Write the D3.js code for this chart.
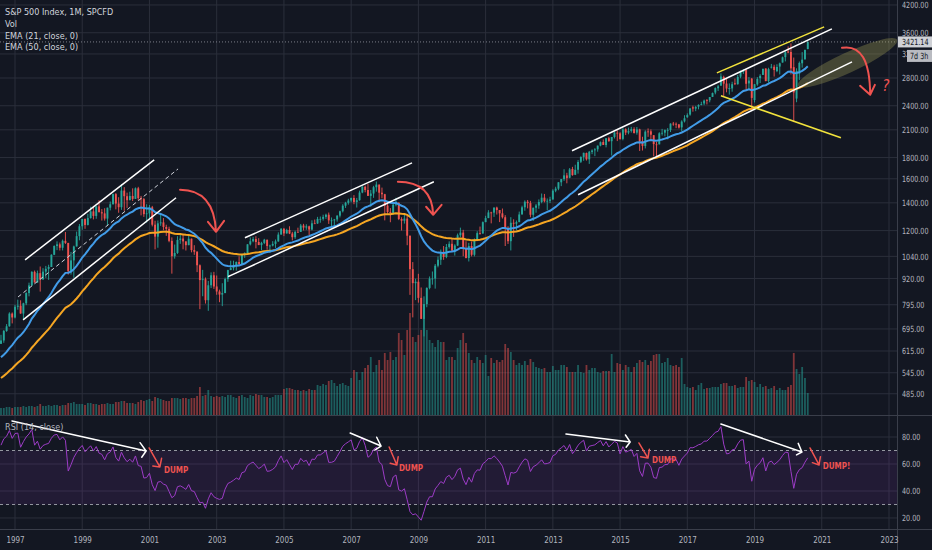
<!DOCTYPE html>
<html>
<head>
<meta charset="utf-8">
<script src="https://cdn.jsdelivr.net/npm/d3@7"></script>
<style>
  html, body { margin: 0; padding: 0; background: #131722; }
  svg { display: block; }
  text { font-family: "Liberation Sans Narrow", "DejaVu Sans Condensed", "Liberation Sans", sans-serif; }
</style>
</head>
<body>
<svg id="chart" width="932" height="550"></svg>
<script>
// S&P 500 monthly candles, Aug 1996 .. Aug 2020 (one row per year)
const firstYear = 1996, firstMonth = 7; // August

// closes before the first visible candle, only used to warm up EMA / RSI
const warmupClose = [
  408.8, 412.7, 403.7, 414.9, 415.4, 408.1, 424.2, 414.0, 417.8, 418.7, 431.4, 435.7,
  438.8, 443.4, 451.7, 440.2, 450.2, 450.5, 448.1, 463.6, 458.9, 467.8, 461.8, 466.5,
  481.6, 467.1, 445.8, 451.0, 456.5, 444.3, 458.3, 475.5, 462.7, 472.4, 454.0, 459.3,
  470.4, 487.4, 500.7, 514.7, 533.4, 544.8, 562.1, 561.9, 584.4, 581.5, 605.4, 615.9,
  636.0, 640.4, 645.5, 654.2, 669.1, 670.6, 639.9
];

const open = [
  639.9, 652.0, 687.3, 705.3, 757.0,
  740.7, 786.2, 790.8, 757.1, 801.3, 848.3, 885.1, 954.3, 899.5, 947.3, 914.6, 955.4,
  970.4, 980.3, 1049.3, 1101.8, 1111.8, 1090.8, 1133.8, 1120.7, 957.3, 1017.0, 1098.7, 1163.6,
  1229.2, 1279.6, 1238.3, 1286.4, 1335.2, 1301.8, 1372.7, 1328.7, 1320.4, 1282.7, 1362.9, 1388.9,
  1469.3, 1394.5, 1366.4, 1498.6, 1452.4, 1420.6, 1454.6, 1430.8, 1517.7, 1436.5, 1429.4, 1315.0,
  1320.3, 1366.0, 1239.9, 1160.3, 1249.5, 1255.8, 1224.4, 1211.2, 1133.6, 1040.9, 1059.8, 1139.5,
  1148.1, 1130.2, 1106.7, 1147.4, 1076.9, 1067.1, 989.8, 911.6, 916.1, 815.3, 885.8, 936.3,
  879.8, 855.7, 841.2, 848.2, 916.9, 963.6, 974.5, 990.3, 1008.0, 996.0, 1050.7, 1058.2,
  1111.9, 1131.1, 1144.9, 1126.2, 1107.3, 1120.7, 1140.8, 1101.7, 1104.2, 1114.6, 1130.2, 1173.8,
  1211.9, 1181.3, 1203.6, 1180.6, 1156.9, 1191.5, 1191.3, 1234.2, 1220.3, 1228.8, 1207.0, 1249.5,
  1248.3, 1280.1, 1280.7, 1294.9, 1310.6, 1270.1, 1270.2, 1276.7, 1303.8, 1335.9, 1377.9, 1400.6,
  1418.3, 1438.2, 1406.8, 1420.9, 1482.4, 1530.6, 1503.4, 1455.2, 1474.0, 1526.8, 1549.4, 1481.1,
  1468.4, 1378.6, 1330.5, 1322.7, 1385.6, 1400.4, 1280.0, 1267.4, 1282.8, 1166.4, 968.8, 896.2,
  903.3, 825.9, 735.1, 797.9, 872.8, 919.1, 919.3, 987.5, 1020.6, 1057.1, 1036.2, 1095.6,
  1115.1, 1073.9, 1104.5, 1169.4, 1186.7, 1089.4, 1030.7, 1101.6, 1049.3, 1141.2, 1183.3, 1180.6,
  1257.6, 1286.1, 1327.2, 1325.8, 1363.6, 1345.2, 1320.6, 1292.3, 1218.9, 1131.4, 1253.3, 1246.9,
  1257.6, 1312.5, 1365.9, 1408.5, 1397.9, 1310.3, 1362.3, 1379.3, 1406.5, 1440.9, 1412.2, 1416.2,
  1426.2, 1498.1, 1514.7, 1569.2, 1597.6, 1630.6, 1609.8, 1689.4, 1636.0, 1682.4, 1758.7, 1806.6,
  1845.9, 1782.7, 1857.7, 1874.0, 1884.4, 1923.9, 1962.3, 1929.8, 2004.1, 1971.4, 2018.2, 2065.8,
  2058.9, 1996.7, 2105.2, 2067.6, 2087.4, 2108.6, 2067.0, 2104.5, 1970.1, 1919.7, 2080.8, 2082.9,
  2038.2, 1936.9, 1937.1, 2056.6, 2067.2, 2093.9, 2099.3, 2173.2, 2171.3, 2164.3, 2128.7, 2200.2,
  2251.6, 2285.6, 2380.1, 2362.3, 2388.5, 2415.6, 2431.4, 2477.1, 2474.4, 2521.2, 2583.2, 2645.1,
  2683.7, 2816.5, 2715.2, 2633.5, 2643.0, 2718.7, 2705.0, 2821.2, 2897.0, 2926.3, 2717.6, 2790.5,
  2477.0, 2702.3, 2798.2, 2848.6, 2952.3, 2751.5, 2971.4, 2980.3, 2909.0, 2983.7, 3050.7, 3143.9,
  3244.7, 3235.7, 2974.3, 2498.1, 2869.1, 3038.8, 3105.9, 3288.3
];

const high = [
  672.7, 690.9, 714.1, 762.3, 761.8,
  794.7, 817.7, 814.9, 804.1, 851.9, 898.7, 957.7, 961.3, 961.0, 983.1, 974.0, 986.3,
  992.7, 1052.0, 1105.7, 1130.5, 1123.0, 1141.7, 1190.6, 1121.0, 1066.1, 1103.8, 1193.2, 1244.9,
  1280.4, 1283.8, 1316.6, 1370.2, 1376.6, 1374.0, 1420.3, 1352.3, 1358.6, 1362.9, 1410.5, 1473.1,
  1478.0, 1444.6, 1552.9, 1527.2, 1481.5, 1488.9, 1517.3, 1525.2, 1530.1, 1454.8, 1438.5, 1389.1,
  1383.4, 1376.4, 1267.4, 1269.3, 1315.9, 1286.6, 1239.8, 1226.3, 1155.4, 1110.6, 1163.4, 1173.0,
  1176.6, 1130.2, 1173.0, 1147.8, 1106.6, 1070.7, 994.5, 965.0, 925.0, 907.4, 951.6, 954.3,
  935.1, 864.6, 895.9, 924.2, 965.4, 1015.3, 1015.4, 1011.0, 1040.3, 1053.8, 1063.7, 1112.6,
  1155.4, 1158.9, 1163.2, 1150.6, 1127.7, 1146.3, 1140.8, 1109.7, 1131.5, 1142.1, 1188.5, 1217.3,
  1217.8, 1212.4, 1229.1, 1191.9, 1199.6, 1219.6, 1245.2, 1245.9, 1243.1, 1233.3, 1270.6, 1275.8,
  1294.9, 1297.6, 1310.9, 1318.2, 1326.7, 1290.7, 1280.4, 1306.7, 1340.3, 1389.5, 1407.9, 1431.8,
  1441.6, 1461.6, 1438.9, 1498.0, 1535.6, 1540.6, 1555.9, 1503.9, 1538.7, 1576.1, 1549.4, 1523.6,
  1471.8, 1404.1, 1359.7, 1404.6, 1440.2, 1404.1, 1292.2, 1313.2, 1303.0, 1167.0, 1007.5, 918.9,
  943.9, 875.0, 833.0, 875.6, 930.2, 956.2, 996.7, 1039.5, 1080.2, 1101.4, 1113.7, 1130.4,
  1150.5, 1112.4, 1180.2, 1219.8, 1205.1, 1131.2, 1121.0, 1129.2, 1148.9, 1196.1, 1227.1, 1262.6,
  1302.7, 1344.1, 1332.3, 1364.6, 1370.6, 1345.2, 1356.5, 1307.4, 1229.3, 1292.7, 1277.6, 1269.4,
  1333.5, 1378.0, 1419.2, 1422.4, 1415.3, 1363.5, 1391.7, 1426.7, 1474.5, 1471.0, 1434.3, 1448.0,
  1509.9, 1530.9, 1570.3, 1597.6, 1687.2, 1654.2, 1698.8, 1709.7, 1729.9, 1775.2, 1813.6, 1849.4,
  1850.8, 1867.9, 1884.0, 1897.3, 1924.0, 1968.2, 1991.4, 2005.0, 2019.3, 2018.2, 2075.8, 2093.6,
  2072.4, 2119.6, 2117.5, 2125.9, 2134.7, 2129.9, 2132.8, 2112.7, 2020.9, 2094.3, 2116.5, 2104.3,
  2038.2, 1963.0, 2072.2, 2111.1, 2103.5, 2120.6, 2177.1, 2193.8, 2187.9, 2169.6, 2214.1, 2277.5,
  2301.0, 2371.5, 2401.0, 2398.2, 2418.7, 2454.0, 2484.0, 2490.9, 2519.4, 2583.0, 2657.7, 2695.0,
  2872.9, 2836.0, 2801.9, 2717.5, 2742.2, 2791.5, 2848.0, 2916.5, 2940.9, 2939.9, 2815.2, 2800.2,
  2709.0, 2813.5, 2860.3, 2949.5, 2954.1, 2964.2, 3028.0, 3013.6, 3022.0, 3050.1, 3154.3, 3247.9,
  3337.8, 3393.5, 3136.7, 2954.9, 3068.7, 3233.1, 3280.0, 3432.0
];

const low = [
  639.6, 643.6, 684.0, 703.8, 716.7,
  737.0, 773.4, 756.1, 733.5, 793.2, 833.1, 882.7, 899.0, 897.8, 855.3, 914.6, 922.7,
  912.8, 980.3, 1047.4, 1076.7, 1074.4, 1074.8, 1114.3, 939.9, 939.9, 923.3, 1098.7, 1136.9,
  1205.5, 1211.9, 1234.7, 1282.6, 1277.0, 1281.4, 1328.7, 1268.7, 1268.4, 1233.7, 1342.4, 1387.4,
  1350.1, 1325.1, 1346.6, 1339.4, 1361.1, 1420.6, 1413.9, 1430.8, 1419.4, 1305.8, 1294.9, 1254.1,
  1274.6, 1228.3, 1081.2, 1091.0, 1232.0, 1203.0, 1165.5, 1124.9, 944.8, 1026.8, 1054.3, 1114.9,
  1081.7, 1074.4, 1106.7, 1063.5, 1048.9, 952.9, 775.7, 833.4, 800.2, 768.6, 872.1, 868.0,
  840.3, 806.3, 788.9, 847.9, 902.8, 963.6, 962.1, 960.8, 990.4, 995.9, 1031.2, 1058.2,
  1105.1, 1124.4, 1087.2, 1107.2, 1076.3, 1113.3, 1078.8, 1060.7, 1099.2, 1090.2, 1127.6, 1173.8,
  1163.8, 1180.1, 1176.9, 1136.2, 1146.2, 1188.3, 1191.3, 1201.1, 1205.4, 1168.2, 1201.1, 1246.6,
  1245.7, 1253.6, 1268.4, 1280.7, 1245.3, 1219.3, 1224.5, 1261.3, 1290.9, 1327.1, 1360.9, 1385.9,
  1403.9, 1389.1, 1364.0, 1416.4, 1476.7, 1484.2, 1454.3, 1370.6, 1439.3, 1489.6, 1406.1, 1435.7,
  1270.1, 1317.5, 1257.0, 1312.0, 1373.1, 1272.0, 1200.4, 1247.5, 1106.4, 839.8, 741.0, 815.7,
  804.3, 734.5, 666.8, 783.9, 866.1, 888.9, 869.3, 978.5, 992.0, 1020.2, 1029.4, 1085.9,
  1071.6, 1044.5, 1101.4, 1157.0, 1040.8, 1028.3, 1010.9, 1039.7, 1039.7, 1131.9, 1173.0, 1180.6,
  1257.6, 1286.1, 1249.1, 1294.7, 1311.8, 1258.1, 1282.9, 1101.5, 1114.2, 1074.8, 1158.7, 1202.4,
  1257.6, 1312.5, 1340.0, 1357.4, 1292.0, 1266.7, 1325.4, 1354.7, 1396.6, 1403.3, 1343.4, 1398.1,
  1426.2, 1485.0, 1501.5, 1536.0, 1581.3, 1560.3, 1604.6, 1627.5, 1633.4, 1646.5, 1746.2, 1768.0,
  1770.5, 1737.9, 1834.4, 1814.4, 1859.8, 1916.0, 1930.7, 1904.8, 1964.0, 1820.7, 2001.0, 1972.6,
  1988.1, 1980.9, 2039.7, 2048.4, 2067.9, 2056.3, 2044.0, 1867.0, 1871.9, 1893.7, 2019.4, 1993.3,
  1812.3, 1810.1, 1937.1, 2033.8, 2025.9, 1991.7, 2074.0, 2147.6, 2119.1, 2114.7, 2083.8, 2187.4,
  2245.1, 2271.7, 2322.3, 2329.0, 2352.7, 2405.7, 2407.7, 2417.4, 2446.6, 2520.4, 2557.5, 2605.5,
  2682.4, 2532.7, 2585.9, 2553.8, 2594.6, 2692.0, 2699.0, 2796.3, 2864.1, 2603.5, 2631.1, 2346.6,
  2444.0, 2681.8, 2722.3, 2848.6, 2750.5, 2728.8, 2952.2, 2822.1, 2891.9, 2855.9, 3050.7, 3070.3,
  3214.6, 2855.8, 2191.9, 2447.5, 2766.6, 2965.7, 3101.2, 3284.5
];

const close = [
  651.99, 687.33, 705.27, 757.02, 740.74,
  786.16, 790.82, 757.12, 801.34, 848.28, 885.14, 954.31, 899.47, 947.28, 914.62, 955.40, 970.43,
  980.28, 1049.34, 1101.75, 1111.75, 1090.82, 1133.84, 1120.67, 957.28, 1017.01, 1098.67, 1163.63, 1229.23,
  1279.64, 1238.33, 1286.37, 1335.18, 1301.84, 1372.71, 1328.72, 1320.41, 1282.71, 1362.93, 1388.91, 1469.25,
  1394.46, 1366.42, 1498.58, 1452.43, 1420.60, 1454.60, 1430.83, 1517.68, 1436.51, 1429.40, 1314.95, 1320.28,
  1366.01, 1239.94, 1160.33, 1249.46, 1255.82, 1224.42, 1211.23, 1133.58, 1040.94, 1059.78, 1139.45, 1148.08,
  1130.20, 1106.73, 1147.39, 1076.92, 1067.14, 989.82, 911.62, 916.07, 815.28, 885.76, 936.31, 879.82,
  855.70, 841.15, 848.18, 916.92, 963.59, 974.50, 990.31, 1008.01, 995.97, 1050.71, 1058.20, 1111.92,
  1131.13, 1144.94, 1126.21, 1107.30, 1120.68, 1140.84, 1101.72, 1104.24, 1114.58, 1130.20, 1173.82, 1211.92,
  1181.27, 1203.60, 1180.59, 1156.85, 1191.50, 1191.33, 1234.18, 1220.33, 1228.81, 1207.01, 1249.48, 1248.29,
  1280.08, 1280.66, 1294.87, 1310.61, 1270.09, 1270.20, 1276.66, 1303.82, 1335.85, 1377.94, 1400.63, 1418.30,
  1438.24, 1406.82, 1420.86, 1482.37, 1530.62, 1503.35, 1455.27, 1473.99, 1526.75, 1549.38, 1481.14, 1468.36,
  1378.55, 1330.63, 1322.70, 1385.59, 1400.38, 1280.00, 1267.38, 1282.83, 1166.36, 968.75, 896.24, 903.25,
  825.88, 735.09, 797.87, 872.81, 919.14, 919.32, 987.48, 1020.62, 1057.08, 1036.19, 1095.63, 1115.10,
  1073.87, 1104.49, 1169.43, 1186.69, 1089.41, 1030.71, 1101.60, 1049.33, 1141.20, 1183.26, 1180.55, 1257.64,
  1286.12, 1327.22, 1325.83, 1363.61, 1345.20, 1320.64, 1292.28, 1218.89, 1131.42, 1253.30, 1246.96, 1257.60,
  1312.41, 1365.68, 1408.47, 1397.91, 1310.33, 1362.16, 1379.32, 1406.58, 1440.67, 1412.16, 1416.18, 1426.19,
  1498.11, 1514.68, 1569.19, 1597.57, 1630.74, 1606.28, 1685.73, 1632.97, 1681.55, 1756.54, 1805.81, 1848.36,
  1782.59, 1859.45, 1872.34, 1883.95, 1923.57, 1960.23, 1930.67, 2003.37, 1972.29, 2018.05, 2067.56, 2058.90,
  1994.99, 2104.50, 2067.89, 2085.51, 2107.39, 2063.11, 2103.84, 1972.18, 1920.03, 2079.36, 2080.41, 2043.94,
  1940.24, 1932.23, 2059.74, 2065.30, 2096.95, 2098.86, 2173.60, 2170.95, 2168.27, 2126.15, 2198.81, 2238.83,
  2278.87, 2363.64, 2362.72, 2384.20, 2411.80, 2423.41, 2470.30, 2471.65, 2519.36, 2575.26, 2647.58, 2673.61,
  2823.81, 2713.83, 2640.87, 2648.05, 2705.27, 2718.37, 2816.29, 2901.52, 2913.98, 2711.74, 2760.17, 2506.85,
  2704.10, 2784.49, 2834.40, 2945.83, 2752.06, 2941.76, 2980.38, 2926.46, 2976.74, 3037.56, 3140.98, 3230.78,
  3225.52, 2954.22, 2584.59, 2912.43, 3044.31, 3100.29, 3271.12, 3421.14
];

// volume, read as bar heights off the picture (arbitrary units)
const volume = [
  7, 7, 8, 8, 7,
  8, 8, 8, 9, 8, 9, 9, 8, 9, 11, 9, 9,
  10, 9, 10, 10, 9, 10, 10, 12, 12, 13, 11, 11,
  11, 10, 12, 12, 11, 11, 10, 11, 11, 12, 11, 11,
  13, 13, 14, 14, 12, 12, 12, 11, 13, 15, 14, 15,
  16, 14, 18, 17, 16, 15, 14, 14, 17, 17, 17, 16,
  17, 17, 16, 17, 17, 19, 28, 19, 20, 25, 19, 18,
  19, 18, 19, 18, 20, 20, 18, 17, 19, 20, 18, 17,
  20, 19, 21, 20, 20, 18, 18, 17, 18, 20, 20, 20,
  26, 27, 27, 26, 25, 25, 24, 25, 24, 26, 25, 25,
  30, 29, 31, 30, 34, 35, 32, 29, 31, 32, 30, 29,
  37, 45, 43, 35, 43, 47, 50, 58, 43, 50, 55, 45,
  62, 55, 63, 55, 58, 82, 75, 60, 85, 102, 78, 73,
  80, 85, 97, 85, 75, 72, 68, 75, 73, 73, 55, 58,
  58, 55, 67, 75, 82, 72, 62, 55, 52, 58, 55, 52,
  60, 39, 57, 52, 55, 53, 55, 71, 67, 63, 55, 50,
  52, 50, 54, 50, 56, 53, 48, 47, 46, 47, 43, 43,
  49, 45, 45, 50, 50, 48, 43, 43, 43, 50, 43, 42,
  50, 45, 47, 47, 43, 42, 44, 44, 44, 61, 43, 52,
  51, 45, 50, 48, 43, 48, 52, 55, 53, 55, 50, 54,
  60, 61, 61, 52, 53, 57, 50, 49, 50, 48, 57, 31,
  28, 27, 28, 25, 30, 32, 26, 27, 27, 28, 28, 28,
  31, 32, 32, 29, 29, 30, 27, 28, 28, 38, 34, 35,
  33, 28, 31, 28, 29, 26, 27, 29, 25, 27, 25, 25,
  28, 30, 62, 46, 41, 48, 37, 22
];

// axis ticks
const priceTicks = [485, 545, 615, 695, 795, 920, 1040, 1200, 1400, 1600, 1800, 2100, 2400, 2800, 3200, 3600, 4200];
const rsiTicks = [20, 40, 60, 80];
const yearTicks = [1997, 1999, 2001, 2003, 2005, 2007, 2009, 2011, 2013, 2015, 2017, 2019, 2021, 2023];

// drawings on the chart, [decimal year, price]
const whiteLines = [
  [[1997.30, 1020], [2001.14, 1777]],
  [[1997.24, 731], [2001.79, 1440]],
  [[2003.84, 1153], [2008.81, 1748]],
  [[2003.34, 929], [2009.46, 1574]],
  [[2013.57, 1869], [2021.30, 3679]],
  [[2013.75, 1464], [2021.90, 3063]]
];
const dashedLines = [
  [[1997.09, 830], [2001.85, 1690]]
];
const yellowLines = [
  [[2017.88, 2881], [2021.07, 3720]],
  [[2018.00, 2537], [2021.57, 2009]]
];
// curved arrows: start, control, tip, wing, wing
const curvedArrows = [
  [[2001.91, 1505], [2002.92, 1505], [2002.98, 1192], [2002.74, 1260], [2003.22, 1267]],
  [[2008.39, 1574], [2009.41, 1574], [2009.44, 1310], [2009.23, 1370], [2009.69, 1385]],
  [[2021.60, 3311], [2022.43, 3404], [2022.44, 2551], [2022.14, 2681], [2022.58, 2696]]
];
const ellipseAxis = [[2020.29, 2681], [2023.24, 3461]];
const questionMark = [2022.80, 2607];

// RSI pane drawings, [decimal year, rsi]: from, tip, wing, wing
const rsiWhiteArrows = [
  [[1996.91, 91.9], [2000.90, 69.6], [2000.72, 75.8], [2000.77, 65.0]],
  [[2006.97, 83.0], [2007.89, 73.3], [2007.76, 79.8], [2007.71, 70.4]],
  [[2013.39, 82.2], [2015.30, 76.3], [2015.16, 81.5], [2015.18, 72.4]],
  [[2018.00, 89.6], [2020.41, 68.9], [2020.30, 75.3], [2020.25, 66.7]]
];
const rsiRedArrows = [
  [[2000.99, 71.9], [2001.31, 57.8], [2001.10, 58.5], [2001.36, 64.2]],
  [[2008.13, 72.6], [2008.36, 59.3], [2008.16, 60.5], [2008.40, 65.4]],
  [[2015.56, 75.6], [2015.83, 64.4], [2015.61, 65.4], [2015.87, 70.9]],
  [[2020.65, 71.9], [2020.92, 59.3], [2020.72, 61.0], [2020.96, 65.4]]
];
const dumpLabels = [
  [2001.43, 53.6, 'DUMP'],
  [2008.42, 55.0, 'DUMP'],
  [2015.95, 61.0, 'DUMP'],
  [2021.03, 56.1, 'DUMP!']
];

const legendLines = ['S&P 500 Index, 1M, SPCFD', 'Vol', 'EMA (21, close, 0)', 'EMA (50, close, 0)'];

// ---------- indicators ----------
function ema(src, n) {
  const a = 2 / (n + 1);
  let v;
  return src.map((c, i) => (v = i === 0 ? c : a * c + (1 - a) * v));
}

function rsi(src, n) {
  const out = src.map(() => null);
  let ag = 0, al = 0;
  for (let i = 1; i < src.length; i++) {
    const ch = src[i] - src[i - 1];
    const g = Math.max(ch, 0), l = Math.max(-ch, 0);
    if (i <= n) {
      ag += g / n; al += l / n;
    } else {
      ag = (ag * (n - 1) + g) / n;
      al = (al * (n - 1) + l) / n;
    }
    if (i >= n) out[i] = al === 0 ? 100 : 100 - 100 / (1 + ag / al);
  }
  return out;
}

const allClose = warmupClose.concat(close);
const skip = warmupClose.length;
const ema21 = ema(allClose, 21).slice(skip);
const ema50 = ema(allClose, 50).slice(skip);
const rsi14 = rsi(allClose, 14).slice(skip);

const idx = d3.range(close.length);
const t = idx.map(i => firstYear + (firstMonth + i) / 12);

// ---------- layout ----------
const plotRight = 897;
const priceBottom = 415, rsiTop = 416, rsiBottom = 529;

const x = d3.scaleLinear().domain([1997, 2023]).range([15, 889]);
const yPrice = d3.scaleLog().domain([431, 4318]).range([priceBottom, 0]);
const yVol = d3.scaleLinear().domain([0, 100]).range([priceBottom, priceBottom - 100]);
const yRsi = d3.scaleLinear().domain([11.85, 95.56]).range([rsiBottom, rsiTop]);

const upColor = '#26a69a', downColor = '#ef5350';
const gridColor = '#2b2f3b', borderColor = '#3a3e4a', textColor = '#b2b5be';

const svg = d3.select('#chart');
svg.append('rect').attr('width', 932).attr('height', 550).attr('fill', '#131722');

const defs = svg.append('defs');
defs.append('clipPath').attr('id', 'clip-price')
  .append('rect').attr('x', 0).attr('y', 0).attr('width', plotRight).attr('height', priceBottom);
defs.append('clipPath').attr('id', 'clip-rsi')
  .append('rect').attr('x', 0).attr('y', rsiTop).attr('width', plotRight).attr('height', rsiBottom - rsiTop);

// grid
const grid = svg.append('g');
grid.selectAll('line.v').data(yearTicks).enter().append('line')
  .attr('x1', d => x(d)).attr('x2', d => x(d))
  .attr('y1', 0).attr('y2', rsiBottom)
  .attr('stroke', gridColor);
grid.selectAll('line.p').data(priceTicks).enter().append('line')
  .attr('x1', 0).attr('x2', plotRight)
  .attr('y1', d => yPrice(d)).attr('y2', d => yPrice(d))
  .attr('stroke', gridColor);
grid.selectAll('line.r').data(rsiTicks).enter().append('line')
  .attr('x1', 0).attr('x2', plotRight)
  .attr('y1', d => yRsi(d)).attr('y2', d => yRsi(d))
  .attr('stroke', gridColor);

// pane borders
svg.append('line').attr('x1', 0).attr('x2', 932).attr('y1', priceBottom + 0.5).attr('y2', priceBottom + 0.5).attr('stroke', borderColor);
svg.append('line').attr('x1', 0).attr('x2', 932).attr('y1', rsiBottom + 0.5).attr('y2', rsiBottom + 0.5).attr('stroke', borderColor);
svg.append('line').attr('x1', plotRight + 0.5).attr('x2', plotRight + 0.5).attr('y1', 0).attr('y2', 550).attr('stroke', borderColor);

// ---------- price pane ----------
const pricePane = svg.append('g').attr('clip-path', 'url(#clip-price)');

// volume
pricePane.selectAll('rect.vol').data(idx).enter().append('rect')
  .attr('x', i => x(t[i]) - 0.9)
  .attr('width', 1.8)
  .attr('y', i => yVol(volume[i]))
  .attr('height', i => yVol(0) - yVol(volume[i]))
  .attr('fill', i => close[i] >= open[i] ? upColor : downColor)
  .attr('fill-opacity', 0.5);

// candles
pricePane.selectAll('line.wick').data(idx).enter().append('line')
  .attr('x1', i => x(t[i])).attr('x2', i => x(t[i]))
  .attr('y1', i => yPrice(high[i])).attr('y2', i => yPrice(low[i]))
  .attr('stroke', i => close[i] >= open[i] ? upColor : downColor)
  .attr('stroke-width', 0.9);
pricePane.selectAll('rect.body').data(idx).enter().append('rect')
  .attr('x', i => x(t[i]) - 0.95)
  .attr('width', 1.9)
  .attr('y', i => yPrice(Math.max(open[i], close[i])))
  .attr('height', i => Math.max(0.8, yPrice(Math.min(open[i], close[i])) - yPrice(Math.max(open[i], close[i]))))
  .attr('fill', i => close[i] >= open[i] ? upColor : downColor);

// EMAs
const emaLine = s => d3.line().x(i => x(t[i])).y(i => yPrice(s[i]));
pricePane.append('path').attr('d', emaLine(ema50)(idx))
  .attr('fill', 'none').attr('stroke', '#f5a623').attr('stroke-width', 2);
pricePane.append('path').attr('d', emaLine(ema21)(idx))
  .attr('fill', 'none').attr('stroke', '#429ce8').attr('stroke-width', 2);

// last price line
const lastY = yPrice(close[close.length - 1]);
pricePane.append('line').attr('x1', 0).attr('x2', plotRight).attr('y1', lastY).attr('y2', lastY)
  .attr('stroke', '#9598a1').attr('stroke-width', 0.8).attr('stroke-dasharray', '1,2');

// drawings
const pp = d => [x(d[0]), yPrice(d[1])];
const ea = pp(ellipseAxis[0]), eb = pp(ellipseAxis[1]);
pricePane.append('ellipse')
  .attr('cx', (ea[0] + eb[0]) / 2).attr('cy', (ea[1] + eb[1]) / 2)
  .attr('rx', Math.hypot(eb[0] - ea[0], eb[1] - ea[1]) / 2).attr('ry', 10)
  .attr('transform', `rotate(${Math.atan2(eb[1] - ea[1], eb[0] - ea[0]) * 180 / Math.PI} ${(ea[0] + eb[0]) / 2} ${(ea[1] + eb[1]) / 2})`)
  .attr('fill', 'rgba(175,170,90,0.32)');

pricePane.selectAll('line.white').data(whiteLines).enter().append('line')
  .attr('x1', d => pp(d[0])[0]).attr('y1', d => pp(d[0])[1])
  .attr('x2', d => pp(d[1])[0]).attr('y2', d => pp(d[1])[1])
  .attr('stroke', '#ffffff').attr('stroke-width', 1.5);
pricePane.selectAll('line.dash').data(dashedLines).enter().append('line')
  .attr('x1', d => pp(d[0])[0]).attr('y1', d => pp(d[0])[1])
  .attr('x2', d => pp(d[1])[0]).attr('y2', d => pp(d[1])[1])
  .attr('stroke', '#d1d4dc').attr('stroke-width', 1).attr('stroke-dasharray', '4,3');
pricePane.selectAll('line.yellow').data(yellowLines).enter().append('line')
  .attr('x1', d => pp(d[0])[0]).attr('y1', d => pp(d[0])[1])
  .attr('x2', d => pp(d[1])[0]).attr('y2', d => pp(d[1])[1])
  .attr('stroke', '#f2e33c').attr('stroke-width', 1.5);

curvedArrows.forEach(a => {
  const [s, c, e, w1, w2] = a.map(pp);
  const p = d3.path();
  p.moveTo(s[0], s[1]);
  p.quadraticCurveTo(c[0], c[1], e[0], e[1]);
  p.moveTo(w1[0], w1[1]);
  p.lineTo(e[0], e[1]);
  p.lineTo(w2[0], w2[1]);
  pricePane.append('path').attr('d', p.toString())
    .attr('fill', 'none').attr('stroke', '#ef5350').attr('stroke-width', 2)
    .attr('stroke-linecap', 'round').attr('stroke-linejoin', 'round');
});

pricePane.append('text')
  .attr('x', pp(questionMark)[0]).attr('y', pp(questionMark)[1])
  .attr('fill', '#ef5350').attr('font-size', 15).attr('font-style', 'italic')
  .text('?');

// ---------- RSI pane ----------
const rsiPane = svg.append('g').attr('clip-path', 'url(#clip-rsi)');
rsiPane.append('rect')
  .attr('x', 0).attr('width', plotRight)
  .attr('y', yRsi(70)).attr('height', yRsi(30) - yRsi(70))
  .attr('fill', 'rgba(150,60,200,0.12)');
rsiPane.selectAll('line.band').data([70, 30]).enter().append('line')
  .attr('x1', 0).attr('x2', plotRight)
  .attr('y1', d => yRsi(d)).attr('y2', d => yRsi(d))
  .attr('stroke', '#9598a1').attr('stroke-dasharray', '3,3');

const rsiLine = d3.line().defined(i => rsi14[i] !== null).x(i => x(t[i])).y(i => yRsi(rsi14[i]));
rsiPane.append('path').attr('d', rsiLine(idx))
  .attr('fill', 'none').attr('stroke', '#9c3cc6').attr('stroke-width', 1);

const rp = d => [x(d[0]), yRsi(d[1])];
function drawArrow(g, a, color, width) {
  const [f, tip, w1, w2] = a.map(rp);
  const p = d3.path();
  p.moveTo(f[0], f[1]);
  p.lineTo(tip[0], tip[1]);
  p.moveTo(w1[0], w1[1]);
  p.lineTo(tip[0], tip[1]);
  p.lineTo(w2[0], w2[1]);
  g.append('path').attr('d', p.toString())
    .attr('fill', 'none').attr('stroke', color).attr('stroke-width', width)
    .attr('stroke-linecap', 'round').attr('stroke-linejoin', 'round');
}
rsiWhiteArrows.forEach(a => drawArrow(rsiPane, a, '#ffffff', 1.5));
rsiRedArrows.forEach(a => drawArrow(rsiPane, a, '#ef5350', 1.5));
rsiPane.selectAll('text.dump').data(dumpLabels).enter().append('text')
  .attr('x', d => rp(d)[0]).attr('y', d => rp(d)[1])
  .attr('fill', '#ef5350').attr('font-size', 8).attr('font-weight', 'bold')
  .text(d => d[2]);

svg.append('text').attr('x', 5).attr('y', 430)
  .attr('fill', textColor).attr('font-size', 9).text('RSI (14, close)');

// ---------- axes ----------
// the chart's axis font is narrow, so squeeze the glyphs horizontally
function styleAxis(size) {
  return g => {
    g.select('.domain').remove();
    g.selectAll('text').attr('fill', textColor).attr('font-size', size).attr('transform', 'scale(0.84,1)');
  };
}
svg.append('g').attr('transform', `translate(${plotRight},0)`)
  .call(d3.axisRight(yPrice).tickValues(priceTicks).tickFormat(d3.format('.2f')).tickSize(0).tickPadding(6))
  .call(styleAxis(8.5));
svg.append('g').attr('transform', `translate(${plotRight},0)`)
  .call(d3.axisRight(yRsi).tickValues(rsiTicks).tickFormat(d3.format('.2f')).tickSize(0).tickPadding(6))
  .call(styleAxis(8.5));
svg.append('g').attr('transform', `translate(0,${rsiBottom})`)
  .call(d3.axisBottom(x).tickValues(yearTicks).tickFormat(d3.format('d')).tickSize(0).tickPadding(7))
  .call(styleAxis(9.5));

// last price and countdown labels
const lastLabel = svg.append('g');
lastLabel.append('rect').attr('x', plotRight + 1).attr('y', lastY - 5.5).attr('width', 35).attr('height', 11).attr('fill', '#cfd1d6');
lastLabel.append('text').attr('x', plotRight + 5).attr('y', lastY).attr('dy', '0.35em')
  .attr('transform', `translate(${(plotRight + 5) * 0.16},0) scale(0.84,1)`)
  .attr('fill', '#131722').attr('font-size', 8.5).text(d3.format('.2f')(close[close.length - 1]));
lastLabel.append('rect').attr('x', plotRight + 10).attr('y', lastY + 8).attr('width', 25).attr('height', 12).attr('fill', '#b9bbc1');
lastLabel.append('text').attr('x', plotRight + 13).attr('y', lastY + 14).attr('dy', '0.35em')
  .attr('transform', `translate(${(plotRight + 13) * 0.16},0) scale(0.84,1)`)
  .attr('fill', '#131722').attr('font-size', 8.5).text('7d 3h');

// legend
svg.selectAll('text.legend').data(legendLines).enter().append('text')
  .attr('x', 5).attr('y', (d, i) => 12 + i * 11.7).attr('dy', '0.35em')
  .attr('fill', '#d1d4dc').attr('font-size', 9)
  .text(d => d);
</script>
</body>
</html>
